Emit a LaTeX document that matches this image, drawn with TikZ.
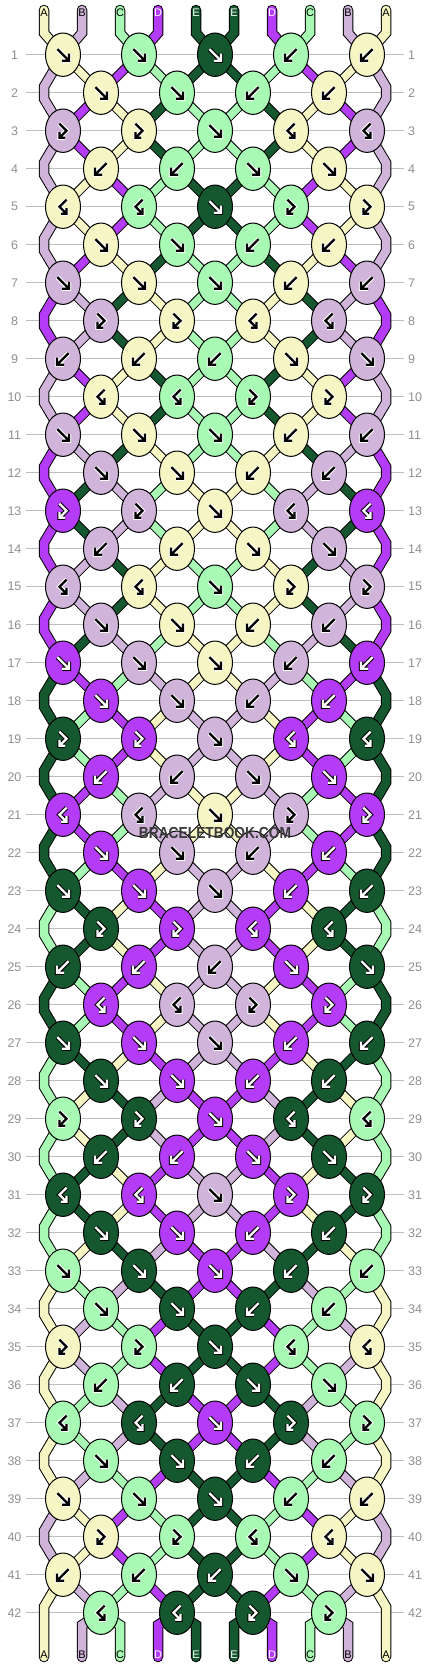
\documentclass[tikz,border=0pt]{standalone}
\usepackage{fontspec}
\setmainfont{Liberation Sans}
\usepackage{graphicx}
\usetikzlibrary{shapes.geometric}
\definecolor{cA}{HTML}{F6F6C4}
\definecolor{cB}{HTML}{D0B4DA}
\definecolor{cC}{HTML}{A8F9B4}
\definecolor{cD}{HTML}{B43CF6}
\definecolor{cE}{HTML}{15582F}
\definecolor{gridgray}{HTML}{BEBEBE}
\definecolor{numgray}{HTML}{8F8F8F}
\definecolor{wmgray}{HTML}{3A3A3A}
\def\mirf{b}\def\mirb{f}\def\mirfb{bf}\def\mirbf{fb}
% glyphs (y axis points down)
\newcommand\gpf[1]{\draw[#1] (-5.5,-5.5) -- (6,6) (6,-1) -- (6,6) -- (-1,6);}
\newcommand\gpb[1]{\draw[#1] (5.5,-5.5) -- (-6,6) (-6,-1) -- (-6,6) -- (1,6);}
\newcommand\gpfb[1]{\draw[#1] (-3.5,-7) -- (3.5,0) -- (-3.5,7) (-3.5,1.5) -- (-3.5,7) -- (2,7);}
\newcommand\gpbf[1]{\draw[#1] (3.5,-7) -- (-3.5,0) -- (3.5,7) (3.5,1.5) -- (3.5,7) -- (-2,7);}
% knot: row, index, colour letter, type
\newcommand\KN[4]{%
  \node[knotnode, fill=c#3] (n-#1-#2) at (k-#1-#2) {};
  \begin{scope}[shift={(k-#1-#2)}]
    \csname gp#4\endcsname{glo-#3}
    \csname gp#4\endcsname{gli-#3}
  \end{scope}}
\newcommand\RO[7]{\KN{#1}{1}{#2}{#3}\KN{#1}{2}{#4}{#5}\KN{#1}{3}{#6}{#7}%
  \KN{#1}{4}{#4}{\csname mir#5\endcsname}\KN{#1}{5}{#2}{\csname mir#3\endcsname}}
\newcommand\RE[5]{\KN{#1}{1}{#2}{#3}\KN{#1}{2}{#4}{#5}%
  \KN{#1}{3}{#4}{\csname mir#5\endcsname}\KN{#1}{4}{#2}{\csname mir#3\endcsname}}
% transitions: row, next row, colours of positions 1..4
\newcommand\TO[6]{%
  \draw[seg=c#3] (k-#1-1) -- (k-#2-1); \draw[seg=c#3] (k-#1-5) -- (k-#2-4);
  \draw[seg=c#4] (k-#1-2) -- (k-#2-1); \draw[seg=c#4] (k-#1-4) -- (k-#2-4);
  \draw[seg=c#5] (k-#1-2) -- (k-#2-2); \draw[seg=c#5] (k-#1-4) -- (k-#2-3);
  \draw[seg=c#6] (k-#1-3) -- (k-#2-2); \draw[seg=c#6] (k-#1-3) -- (k-#2-3);}
\newcommand\TE[6]{%
  \draw[seg=c#3] (k-#1-1) -- (k-#2-1); \draw[seg=c#3] (k-#1-4) -- (k-#2-5);
  \draw[seg=c#4] (k-#1-1) -- (k-#2-2); \draw[seg=c#4] (k-#1-4) -- (k-#2-4);
  \draw[seg=c#5] (k-#1-2) -- (k-#2-2); \draw[seg=c#5] (k-#1-3) -- (k-#2-4);
  \draw[seg=c#6] (k-#1-2) -- (k-#2-3); \draw[seg=c#6] (k-#1-3) -- (k-#2-3);}
% edge strings
\newcommand\EG[4]{%
  \draw[eseg=c#4] (k-#1-1) -- (eLa-#2) -- (eLb-#2) -- (k-#3-1);
  \draw[eseg=c#4] (k-#1-5) -- (eRa-#2) -- (eRb-#2) -- (k-#3-5);}
% top and bottom strings
\newcommand\TS[4]{%
  \coordinate (t-#1) at ({44+38*#1},10);
  \coordinate (tb-#1) at ({44+38*#1},33);
  \draw[eseg=c#2, line cap=round] (t-#1) -- (tb-#1) -- (k-1-#3);
  \node[strlab, text=#4] (lt-#1) at ({44+38*#1},13) {#2};}
\newcommand\BS[4]{%
  \coordinate (bb-#1) at ({44+38*#1},1625);
  \coordinate (be-#1) at ({44+38*#1},1657);
  \draw[eseg=c#2, line cap=round] (k-42-#3) -- (bb-#1) -- (be-#1);
  \node[strlab, text=#4] (lb-#1) at ({44+38*#1},1655) {#2};}
\begin{document}
\begin{tikzpicture}[x=1pt,y=-1pt,
  knotnode/.style={ellipse, draw=black, line width=1pt, minimum width=35pt, minimum height=43.4pt, inner sep=0pt},
  seg/.style={draw=black, line width=1pt, double=#1, double distance=7.5pt},
  eseg/.style={draw=black, line width=1pt, double=#1, double distance=8.5pt, line join=miter},
  gridline/.style={draw=gridgray, line width=1pt},
  rowlab/.style={text=numgray, font=\fontsize{12.5}{13}\selectfont, inner sep=0pt},
  strlab/.style={font=\fontsize{11}{11}\selectfont, inner sep=0pt},
  glo/.style={line width=4.4pt, line cap=butt, line join=miter},
  gli/.style={line width=2.4pt, line cap=butt, line join=miter},
  glo-A/.style={glo, draw=white}, glo-B/.style={glo, draw=white}, glo-C/.style={glo, draw=white},
  glo-D/.style={glo, draw=black}, glo-E/.style={glo, draw=black},
  gli-A/.style={gli, draw=black}, gli-B/.style={gli, draw=black}, gli-C/.style={gli, draw=black},
  gli-D/.style={gli, draw=white}, gli-E/.style={gli, draw=white}]
\useasboundingbox (0,0) rectangle (430,1668);
\fill[white] (0,0) rectangle (430,1668);
% coordinates, grid lines, row numbers
\foreach \r in {1,...,42}{
  \pgfmathsetmacro\yy{54.7+38*(\r-1)}
  \ifodd\r
    \foreach \k in {1,...,5}{\coordinate (k-\r-\k) at ({63+76*(\k-1)},\yy);}
  \else
    \foreach \k in {1,...,4}{\coordinate (k-\r-\k) at ({101+76*(\k-1)},\yy);}
    \coordinate (eLa-\r) at (44,\yy-6);
    \coordinate (eLb-\r) at (44,\yy+6);
    \coordinate (eRa-\r) at (386,\yy-6);
    \coordinate (eRb-\r) at (386,\yy+6);
  \fi
  \draw[gridline] (26,\yy) -- (404,\yy);
  \node[rowlab] (ln-\r) at (14.5,\yy) {\r};
  \node[rowlab, anchor=west] (rn-\r) at (408,\yy) {\r};
}
% strings at the top
\TS{0}{A}{1}{black}\TS{1}{B}{1}{black}\TS{2}{C}{2}{black}\TS{3}{D}{2}{white}\TS{4}{E}{3}{white}
\TS{5}{E}{3}{white}\TS{6}{D}{4}{white}\TS{7}{C}{4}{black}\TS{8}{B}{5}{black}\TS{9}{A}{5}{black}
% strings between rows
\TO{1}{2}{A}{D}{C}{E}
\TE{2}{3}{D}{A}{E}{C}
\TO{3}{4}{D}{A}{E}{C}
\TE{4}{5}{A}{D}{C}{E}
\TO{5}{6}{A}{D}{C}{E}
\TE{6}{7}{D}{A}{E}{C}
\TO{7}{8}{B}{E}{A}{C}
\TE{8}{9}{B}{E}{A}{C}
\TO{9}{10}{D}{A}{E}{C}
\TE{10}{11}{D}{A}{E}{C}
\TO{11}{12}{B}{E}{A}{C}
\TE{12}{13}{E}{B}{C}{A}
\TO{13}{14}{E}{B}{C}{A}
\TE{14}{15}{B}{E}{A}{C}
\TO{15}{16}{B}{E}{A}{C}
\TE{16}{17}{E}{B}{C}{A}
\TO{17}{18}{D}{C}{B}{A}
\TE{18}{19}{C}{D}{A}{B}
\TO{19}{20}{C}{D}{A}{B}
\TE{20}{21}{D}{C}{B}{A}
\TO{21}{22}{D}{C}{B}{A}
\TE{22}{23}{C}{D}{A}{B}
\TO{23}{24}{E}{A}{D}{B}
\TE{24}{25}{E}{A}{D}{B}
\TO{25}{26}{C}{D}{A}{B}
\TE{26}{27}{C}{D}{A}{B}
\TO{27}{28}{E}{A}{D}{B}
\TE{28}{29}{A}{E}{B}{D}
\TO{29}{30}{A}{E}{B}{D}
\TE{30}{31}{E}{A}{D}{B}
\TO{31}{32}{E}{A}{D}{B}
\TE{32}{33}{A}{E}{B}{D}
\TO{33}{34}{C}{B}{E}{D}
\TE{34}{35}{B}{C}{D}{E}
\TO{35}{36}{B}{C}{D}{E}
\TE{36}{37}{C}{B}{E}{D}
\TO{37}{38}{C}{B}{E}{D}
\TE{38}{39}{B}{C}{D}{E}
\TO{39}{40}{A}{D}{C}{E}
\TE{40}{41}{A}{D}{C}{E}
\TO{41}{42}{B}{C}{D}{E}
% edge strings
\EG{1}{2}{3}{B}\EG{3}{4}{5}{B}\EG{5}{6}{7}{B}\EG{7}{8}{9}{D}\EG{9}{10}{11}{B}
\EG{11}{12}{13}{D}\EG{13}{14}{15}{D}\EG{15}{16}{17}{D}\EG{17}{18}{19}{E}\EG{19}{20}{21}{E}
\EG{21}{22}{23}{E}\EG{23}{24}{25}{C}\EG{25}{26}{27}{E}\EG{27}{28}{29}{C}\EG{29}{30}{31}{C}
\EG{31}{32}{33}{C}\EG{33}{34}{35}{A}\EG{35}{36}{37}{A}\EG{37}{38}{39}{A}\EG{39}{40}{41}{B}
% strings at the bottom
\coordinate (be-0) at (44,1657);
\coordinate (be-9) at (386,1657);
\draw[eseg=cA, line cap=round] (k-41-1) -- (eLa-42) -- (be-0);
\draw[eseg=cA, line cap=round] (k-41-5) -- (eRa-42) -- (be-9);
\node[strlab, text=black] (lb-0) at (44,1655) {A};
\node[strlab, text=black] (lb-9) at (386,1655) {A};
\BS{1}{B}{1}{black}\BS{2}{C}{1}{black}\BS{3}{D}{2}{white}\BS{4}{E}{2}{white}
\BS{5}{E}{3}{white}\BS{6}{D}{3}{white}\BS{7}{C}{4}{black}\BS{8}{B}{4}{black}
% knots
\RO{1}{A}{f}{C}{f}{E}{f}
\RE{2}{A}{f}{C}{f}
\RO{3}{B}{fb}{A}{fb}{C}{f}
\RE{4}{A}{b}{C}{b}
\RO{5}{A}{bf}{C}{bf}{E}{f}
\RE{6}{A}{f}{C}{f}
\RO{7}{B}{f}{A}{f}{C}{f}
\RE{8}{B}{fb}{A}{fb}
\RO{9}{B}{b}{A}{b}{C}{b}
\RE{10}{A}{bf}{C}{bf}
\RO{11}{B}{f}{A}{f}{C}{f}
\RE{12}{B}{f}{A}{f}
\RO{13}{D}{fb}{B}{fb}{A}{f}
\RE{14}{B}{b}{A}{b}
\RO{15}{B}{bf}{A}{bf}{C}{f}
\RE{16}{B}{f}{A}{f}
\RO{17}{D}{f}{B}{f}{A}{f}
\RE{18}{D}{f}{B}{f}
\RO{19}{E}{fb}{D}{fb}{B}{f}
\RE{20}{D}{b}{B}{b}
\RO{21}{D}{bf}{B}{bf}{A}{f}
\RE{22}{D}{f}{B}{f}
\RO{23}{E}{f}{D}{f}{B}{f}
\RE{24}{E}{fb}{D}{fb}
\RO{25}{E}{b}{D}{b}{B}{b}
\RE{26}{D}{bf}{B}{bf}
\RO{27}{E}{f}{D}{f}{B}{f}
\RE{28}{E}{f}{D}{f}
\RO{29}{C}{fb}{E}{fb}{D}{f}
\RE{30}{E}{b}{D}{b}
\RO{31}{E}{bf}{D}{bf}{B}{f}
\RE{32}{E}{f}{D}{f}
\RO{33}{C}{f}{E}{f}{D}{f}
\RE{34}{C}{f}{E}{f}
\RO{35}{A}{fb}{C}{fb}{E}{f}
\RE{36}{C}{b}{E}{b}
\RO{37}{C}{bf}{E}{bf}{D}{f}
\RE{38}{C}{f}{E}{f}
\RO{39}{A}{f}{C}{f}{E}{f}
\RE{40}{A}{fb}{C}{fb}
\RO{41}{A}{b}{C}{b}{E}{b}
\RE{42}{C}{bf}{E}{bf}
% watermark
\node[font=\bfseries\fontsize{16}{16}\selectfont, text=wmgray, inner sep=0pt] (wm) at (215,833) {\scalebox{0.86}[1]{BRACELETBOOK.COM}};
\end{tikzpicture}
\end{document}
